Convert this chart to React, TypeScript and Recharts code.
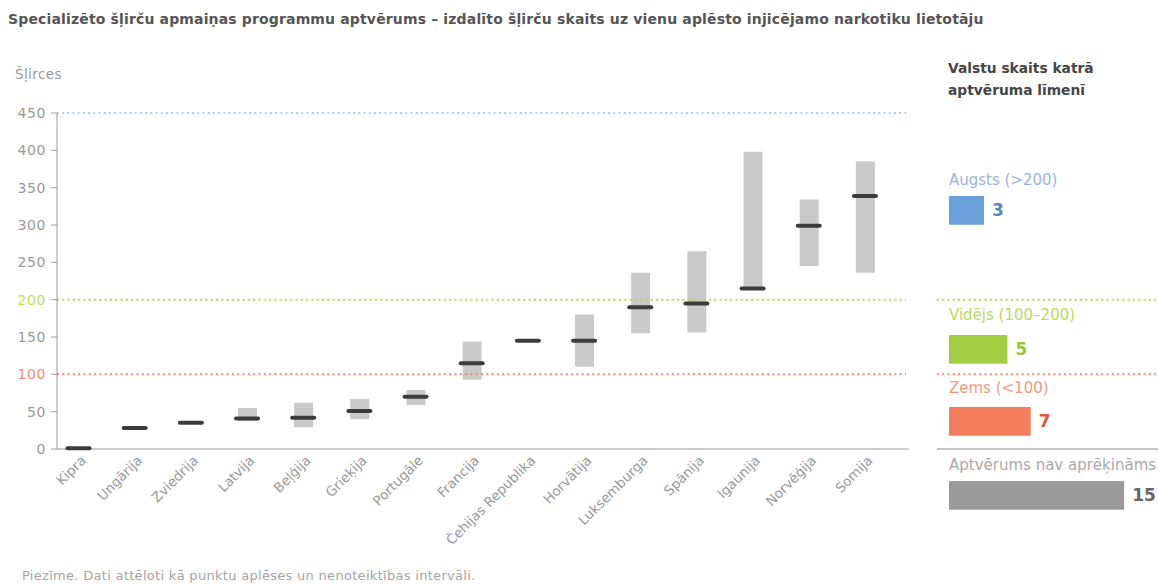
import { ComposedChart, BarChart, Bar, Scatter, XAxis, YAxis, ReferenceLine, LabelList } from 'recharts'

const countries = [
  'Kipra', 'Ungārija', 'Zviedrija', 'Latvija', 'Beļģija', 'Grieķija', 'Portugāle', 'Francija',
  'Čehijas Republika', 'Horvātija', 'Luksemburga', 'Spānija', 'Igaunija', 'Norvēģija', 'Somija',
]
const estimates = [1, 28, 35, 41, 42, 51, 70, 115, 145, 145, 190, 195, 215, 299, 339]
const lowBounds = [null, null, null, 37, 29, 40, 59, 93, null, 110, 155, 156, 215, 245, 236]
const highBounds = [null, null, null, 55, 62, 67, 79, 144, null, 180, 236, 265, 398, 334, 385]
const yTicks = [0, 50, 100, 150, 200, 250, 300, 350, 400, 450]

const levelNames = ['Augsts (>200)', 'Vidējs (100–200)', 'Zems (<100)', 'Aptvērums nav aprēķināms']
const levelCounts = [3, 5, 7, 15]

const FONT = '"DejaVu Sans", sans-serif'
const BLUE = '#8fb0dc'
const GREEN = '#b9d94b'
const RED = '#f2896c'

const data = countries.map((name, i) => ({
  idx: i,
  name,
  est: estimates[i],
  range: lowBounds[i] != null && highBounds[i] != null ? [lowBounds[i], highBounds[i]] : null,
}))

// x domain spans the plot plus the legend strip on the right
const X_MIN = -0.383
const X_MAX = 19.217
const PLOT_END = 14.73
const LEGEND_START = 15.28

const levelStyles = [
  { label: '#9cb3e0', bar: '#6a9fdc', num: '#5a87c4', top: 171, barTop: 194 },
  { label: '#bcd95a', bar: '#a2cc42', num: '#9bc636', top: 306, barTop: 333 },
  { label: '#f09a80', bar: '#f47e5c', num: '#e4553b', top: 379, barTop: 405 },
  { label: '#aaaaaa', bar: '#9a9a9a', num: '#666666', top: 456, barTop: 479 },
]

function YTick(props: any) {
  const { x, y, payload } = props
  const v = payload.value
  const fill = v === 200 ? '#c3dc55' : v === 100 ? '#f08a6a' : '#9a9a9a'
  return (
    <text x={x} y={y} dy="0.36em" textAnchor="end" fontSize={14} letterSpacing={0.6} fontFamily={FONT} fill={fill}>
      {v}
    </text>
  )
}

function XTick(props: any) {
  const { x, y, payload } = props
  return (
    <g transform={`translate(${x + 5},${y + 1})`}>
      <text x={0} y={0} dy="0.35em" textAnchor="end" transform="rotate(-45)" fontSize={13.5} fontFamily={FONT} fill="#9a9a9a">
        {countries[payload.value]}
      </text>
    </g>
  )
}

function Mark(props: any) {
  const { cx, cy } = props
  return <rect x={cx - 13} y={cy - 2} width={26} height={4} rx={2} fill="#3b3b3b" />
}

export default function App() {
  return (
    <div style={{ position: 'absolute', left: 0, top: 0, width: 1158, height: 584, background: '#fff', fontFamily: FONT }}>
      <div style={{ position: 'absolute', left: 8, top: 11, fontSize: 14, letterSpacing: 0.15, fontWeight: 'bold', color: '#555', whiteSpace: 'nowrap' }}>
        Specializēto šļirču apmaiņas programmu aptvērums – izdalīto šļirču skaits uz vienu aplēsto injicējamo narkotiku lietotāju
      </div>
      <div style={{ position: 'absolute', left: 15, top: 66, fontSize: 13.5, letterSpacing: 0.4, color: '#9a9a9a' }}>Šļirces</div>

      <ComposedChart width={1158} height={584} data={data} margin={{ top: 113, right: 0, bottom: 35, left: 0 }}>
        <XAxis
          type="number"
          dataKey="idx"
          domain={[X_MIN, X_MAX]}
          allowDataOverflow
          ticks={countries.map((_, i) => i)}
          interval={0}
          tick={<XTick />}
          tickLine={false}
          axisLine={false}
          height={100}
        />
        <YAxis
          type="number"
          domain={[0, 450]}
          ticks={yTicks}
          interval={0}
          width={57}
          tick={<YTick />}
          tickSize={6}
          tickMargin={5}
          stroke="#9a9a9a"
        />
        <ReferenceLine segment={[{ x: X_MIN, y: 450 }, { x: PLOT_END, y: 450 }]} stroke={BLUE} strokeWidth={1.6} strokeDasharray="1.6 3.6" />
        <ReferenceLine segment={[{ x: X_MIN, y: 200 }, { x: PLOT_END, y: 200 }]} stroke={GREEN} strokeWidth={2} strokeDasharray="2 3.3" />
        <ReferenceLine segment={[{ x: LEGEND_START, y: 200 }, { x: X_MAX, y: 200 }]} stroke={GREEN} strokeWidth={2} strokeDasharray="2 3.3" />
        <ReferenceLine segment={[{ x: X_MIN, y: 100 }, { x: PLOT_END, y: 100 }]} stroke={RED} strokeWidth={2} strokeDasharray="2 3.3" />
        <ReferenceLine segment={[{ x: LEGEND_START, y: 100 }, { x: X_MAX, y: 100 }]} stroke={RED} strokeWidth={2} strokeDasharray="2 3.3" />
        <ReferenceLine segment={[{ x: X_MIN, y: 0 }, { x: PLOT_END + 0.05, y: 0 }]} stroke="#9a9a9a" strokeWidth={1.2} />
        <ReferenceLine segment={[{ x: LEGEND_START, y: 0 }, { x: X_MAX, y: 0 }]} stroke="#8a8a8a" strokeWidth={1.2} />
        <Bar dataKey="range" fill="#c9c9c9" barSize={19} isAnimationActive={false} />
        <Scatter dataKey="est" shape={<Mark />} isAnimationActive={false} />
      </ComposedChart>

      <div style={{ position: 'absolute', left: 948, top: 57, fontSize: 13.8, fontWeight: 'bold', color: '#454545', lineHeight: '22px', whiteSpace: 'nowrap' }}>
        Valstu skaits katrā
        <br />
        aptvēruma līmenī
      </div>

      {levelNames.map((name, i) => (
        <div key={name}>
          <div style={{ position: 'absolute', left: 949, top: levelStyles[i].top, fontSize: 15, color: levelStyles[i].label, whiteSpace: 'nowrap' }}>
            {name}
          </div>
          <div style={{ position: 'absolute', left: 949, top: levelStyles[i].barTop }}>
            <BarChart
              width={209}
              height={32}
              layout="vertical"
              data={[{ name, count: levelCounts[i] }]}
              margin={{ top: 0, right: 0, bottom: 0, left: 0 }}
            >
              <XAxis type="number" domain={[0, 17.9]} hide />
              <YAxis type="category" dataKey="name" hide />
              <Bar dataKey="count" fill={levelStyles[i].bar} barSize={32} isAnimationActive={false}>
                <LabelList
                  dataKey="count"
                  position="right"
                  offset={8}
                  fill={levelStyles[i].num}
                  fontSize={17}
                  fontWeight="bold"
                  fontFamily={FONT}
                />
              </Bar>
            </BarChart>
          </div>
        </div>
      ))}

      <div style={{ position: 'absolute', left: 22, top: 568, fontSize: 13, letterSpacing: 0.3, color: '#a5a5a5', whiteSpace: 'nowrap' }}>
        Piezīme. Dati attēloti kā punktu aplēses un nenoteiktības intervāli.
      </div>
    </div>
  )
}
